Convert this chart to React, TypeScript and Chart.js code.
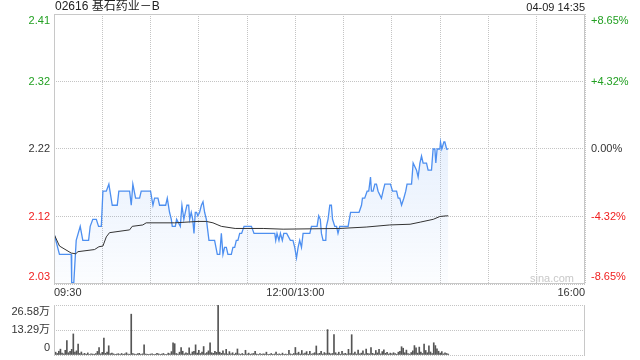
import React, { useEffect, useRef } from 'react';
import { Chart, registerables } from 'chart.js';

Chart.register(...registerables);

const FONT = '"Liberation Sans", Arial, "Noto Sans CJK SC", sans-serif';

const stockTitle = '02616 基石药业－B';
const timeStamp = '04-09 14:35';
const watermark = 'sina.com';

// price axis (prev close 2.22, ±8.65%)
const priceMin = 2.028;
const priceMax = 2.412;
const priceTicks = [2.028, 2.124, 2.22, 2.316, 2.412];
const priceTickLabels = ['2.03', '2.12', '2.22', '2.32', '2.41'];
const pctTickLabels = ['-8.65%', '-4.32%', '0.00%', '+4.32%', '+8.65%'];
const tickColors = ['#f02020', '#f02020', '#333333', '#22a022', '#22a022'];

// time axis in trading minutes from 09:30 (lunch break removed)
const xMax = 330;
const xGridMinutes = [0, 30, 60, 90, 120, 150, 180, 210, 240, 270, 300, 330];
const xLabelMinutes = [0, 150, 330];
const xLabelTexts = ['09:30', '12:00/13:00', '16:00'];

// price line vertices
const priceMinutes = [
  0, 3.4, 10.7, 11, 12.3, 13.8, 16.3, 17.9, 21.5, 22.5, 24.1, 26.3, 27.7, 29.4, 30.4, 32.5, 34.1, 36.2, 39.3, 40.3,
  47, 48, 49, 50.7, 53.2, 54.2, 60, 61.5, 62.5, 64.6, 65.6, 69.4, 70.4, 71.8, 72.9, 73.5, 75.4, 76.2, 78.5, 79.5,
  80.7, 81.6, 82.6, 83.7, 84.3, 85.3, 86.2, 87, 87.8, 88.6, 89.4, 90.5, 91.6, 92.6, 93.6, 94.7, 96.3, 99.8, 101.5, 103,
  104, 105, 106, 107.1, 108.1, 110.2, 111.2, 112.3, 113.3, 114.3, 115.4, 116.6, 118.1, 122.7, 124.3, 137.2, 137.8, 138.6, 139.8, 140.7,
  141.9, 142.8, 144.6, 146.9, 148.5, 149.6, 150.7, 151.7, 152.7, 153.8, 154.8, 159, 160, 163.5, 164.5, 165.5, 166.2, 167.2, 168.9, 169.3,
  170.3, 171.4, 172.4, 173.1, 174.5, 175.6, 176.5, 177.6, 182.8, 184.3, 189.6, 191.1, 191.7, 193.1, 194.6, 195.6, 196.7, 197.3, 198.3, 199.4,
  200.4, 201.4, 203.5, 204.5, 205.6, 209.1, 210.4, 212.9, 213.9, 214.9, 216, 217.4, 218.6, 219.4, 222.2, 223.2, 225.3, 226.3, 227.4, 228.4,
  229.4, 231.5, 232.5, 234.6, 235.6, 236.7, 237.3, 238.1, 239.8, 240.2, 241, 242.3, 242.9, 244, 245,
];
const priceValues = [
  2.10, 2.07, 2.07, 2.03, 2.03, 2.09, 2.11, 2.09, 2.09, 2.11, 2.12, 2.12, 2.11, 2.11, 2.16, 2.16, 2.17, 2.14, 2.14, 2.16,
  2.16, 2.14, 2.17, 2.15, 2.15, 2.16, 2.16, 2.14, 2.15, 2.15, 2.14, 2.14, 2.15, 2.13, 2.12, 2.11, 2.11, 2.12, 2.11, 2.14,
  2.12, 2.13, 2.14, 2.14, 2.12, 2.13, 2.12, 2.10, 2.13, 2.13, 2.125, 2.13, 2.14, 2.145, 2.13, 2.12, 2.09, 2.09, 2.07, 2.07,
  2.10, 2.07, 2.08, 2.08, 2.07, 2.07, 2.08, 2.08, 2.09, 2.09, 2.10, 2.10, 2.11, 2.11, 2.10, 2.10, 2.09, 2.10, 2.09, 2.10,
  2.09, 2.10, 2.10, 2.09, 2.09, 2.08, 2.065, 2.08, 2.09, 2.08, 2.10, 2.10, 2.11, 2.11, 2.125, 2.12, 2.10, 2.09, 2.09, 2.11,
  2.12, 2.14, 2.14, 2.12, 2.11, 2.11, 2.10, 2.11, 2.11, 2.13, 2.13, 2.14, 2.15, 2.15, 2.16, 2.16, 2.18, 2.16, 2.16, 2.17,
  2.17, 2.16, 2.15, 2.16, 2.17, 2.17, 2.16, 2.16, 2.15, 2.15, 2.14, 2.15, 2.16, 2.17, 2.17, 2.20, 2.19, 2.18, 2.20, 2.21,
  2.20, 2.20, 2.19, 2.19, 2.22, 2.22, 2.20, 2.22, 2.22, 2.23, 2.22, 2.23, 2.23, 2.22, 2.22,
];

// average price line vertices
const avgMinutes = [0, 3.4, 10.7, 13.5, 14.9, 25.2, 27.9, 30.4, 32.5, 34.5, 47, 48.6, 55.2, 57.3, 75, 89.5, 94.7, 98.8, 101.9, 104, 112.6, 130, 142.4, 177.6, 194, 208.7, 221.3, 227.6, 235.7, 239.8, 244, 245];
const avgValues = [2.099, 2.082, 2.072, 2.071, 2.074, 2.077, 2.081, 2.082, 2.095, 2.101, 2.105, 2.110, 2.112, 2.115, 2.115, 2.117, 2.117, 2.115, 2.112, 2.110, 2.107, 2.107, 2.106, 2.107, 2.109, 2.112, 2.113, 2.116, 2.120, 2.124, 2.125, 2.125];

// volume per minute, in 万
const volumeMax = 26.58;
const volumeTicks = [0, 13.29, 26.58];
const volumeTickLabels = ['0', '13.29万', '26.58万'];
const volumes = [
  1.2, 1.5, 0.8, 2.0, 3.1, 1.0, 0.6, 2.5, 7.6, 1.2,
  2.0, 3.0, 11.2, 1.5, 2.2, 5.8, 0.8, 1.6, 0.5, 0.9,
  0.4, 1.1, 0.3, 0.6, 0.5, 0.4, 0.8, 1.9, 4.0, 0.6,
  1.4, 9.0, 0.9, 1.5, 4.9, 0.7, 1.0, 0.6, 0.4, 0.5,
  0.7, 0.3, 0.8, 0.4, 0.6, 1.2, 0.5, 0.4, 21.7, 0.8,
  0.5, 0.3, 0.7, 0.9, 0.4, 0.6, 5.4, 0.5, 0.4, 0.3,
  0.5, 0.6, 0.3, 0.4, 0.9, 0.6, 0.3, 0.5, 0.8, 0.4,
  0.3, 1.0, 0.6, 1.8, 6.5, 6.0, 0.8, 0.5, 1.5, 4.0,
  2.0, 0.6, 1.2, 0.8, 3.8, 0.5, 1.6, 2.0, 5.4, 1.0,
  2.5, 0.8, 1.5, 4.5, 0.7, 1.3, 2.2, 6.5, 1.2, 0.9,
  2.0, 1.4, 26.58, 1.5, 0.9, 2.2, 0.7, 3.0, 0.5, 1.8,
  0.6, 1.2, 0.4, 1.0, 3.2, 0.6, 0.4, 0.8, 0.3, 2.5,
  0.5, 1.0, 0.4, 0.6, 0.8, 2.0, 0.5, 0.3, 0.7, 0.4,
  0.6, 0.5, 1.5, 0.3, 0.4, 0.8, 0.3, 0.5, 1.6, 0.4,
  0.6, 0.3, 1.0, 0.4, 0.5, 0.3, 2.5, 0.6, 0.4, 0.8,
  4.0, 0.7, 1.5, 0.5, 2.4, 0.6, 1.0, 1.8, 0.4, 2.0,
  0.5, 0.8, 1.2, 4.8, 0.6, 0.9, 2.0, 0.5, 1.3, 0.7,
  13.5, 1.0, 0.6, 0.8, 10.8, 1.2, 0.5, 1.5, 0.4, 2.0,
  0.6, 0.9, 0.5, 3.0, 0.8, 10.8, 0.7, 1.6, 0.5, 2.6,
  0.6, 1.0, 2.2, 0.5, 3.2, 0.8, 0.6, 4.0, 0.9, 0.5,
  2.4, 1.1, 3.0, 0.6, 1.8, 2.8, 0.9, 1.4, 0.5, 1.0,
  0.6, 1.2, 0.8, 0.4, 1.5, 2.0, 4.4, 3.6, 1.2, 2.6,
  0.7, 0.5, 1.3, 2.2, 5.0, 3.8, 1.0, 4.2, 1.5, 0.8,
  5.8, 2.4, 1.2, 4.9, 1.6, 0.8, 6.5, 5.0, 3.3, 2.0,
  1.0, 1.8, 0.6, 1.2, 0.8, 0.5,
];

const GRID_COLOR = '#c4c4c4';
const FRAME_COLOR = '#c8c8c8';
const GRID_DASH = [1, 1];

// first label pushed inside (down), last label pushed inside (up) — via an empty line
const innerLabel = (labels: string[], i: number) => {
  const s = labels[i];
  if (i === 0) return [s, ''];
  if (i === labels.length - 1) return ['', s];
  return s;
};

const noPad = (s: any) => {
  s.paddingTop = 0;
  s.paddingBottom = 0;
  s.paddingLeft = 0;
  s.paddingRight = 0;
};

const mainDecor = {
  id: 'mainDecor',
  afterDraw(chart: any) {
    const { ctx, chartArea: a } = chart;
    ctx.save();
    ctx.strokeStyle = FRAME_COLOR;
    ctx.lineWidth = 1;
    ctx.strokeRect(a.left + 0.5, a.top + 0.5, a.right - a.left - 1, a.bottom - a.top - 1);
    ctx.textBaseline = 'middle';
    ctx.fillStyle = '#222';
    ctx.font = `12px ${FONT}`;
    ctx.textAlign = 'left';
    ctx.fillText(stockTitle, a.left + 1, 7);
    ctx.font = `11px ${FONT}`;
    ctx.textAlign = 'right';
    ctx.fillText(timeStamp, a.right, 8);
    ctx.fillStyle = '#c8c8c8';
    ctx.textAlign = 'center';
    ctx.fillText(watermark, a.right - 33, a.bottom - 5);
    ctx.restore();
  },
};

const volDecor = {
  id: 'volDecor',
  afterDraw(chart: any) {
    const { ctx, chartArea: a } = chart;
    ctx.save();
    ctx.strokeStyle = FRAME_COLOR;
    ctx.lineWidth = 1;
    ctx.beginPath();
    ctx.moveTo(a.left + 0.5, a.top);
    ctx.lineTo(a.left + 0.5, a.bottom);
    ctx.moveTo(a.right - 0.5, a.top);
    ctx.lineTo(a.right - 0.5, a.bottom);
    ctx.stroke();
    ctx.restore();
  },
};

export default function App() {
  const mainRef = useRef<HTMLCanvasElement>(null);
  const volRef = useRef<HTMLCanvasElement>(null);

  useEffect(() => {
    Chart.defaults.font.family = FONT;
    Chart.defaults.font.size = 11;

    const priceData = priceMinutes.map((m, i) => ({ x: m, y: priceValues[i] }));
    const avgData = avgMinutes.map((m, i) => ({ x: m, y: avgValues[i] }));
    const volData = volumes.map((v, i) => ({ x: i, y: v }));

    const main = new Chart(mainRef.current!, {
      type: 'line',
      data: {
        datasets: [
          {
            data: priceData,
            borderColor: '#4d8ff0',
            borderWidth: 1.3,
            pointRadius: 0,
            tension: 0,
            fill: 'start',
            yAxisID: 'y',
            order: 2,
            backgroundColor: (c: any) => {
              const a = c.chart.chartArea;
              if (!a) return 'rgba(77,143,240,0.1)';
              const g = c.chart.ctx.createLinearGradient(0, a.top, 0, a.bottom);
              g.addColorStop(0, 'rgba(77,143,240,0.24)');
              g.addColorStop(1, 'rgba(77,143,240,0.02)');
              return g;
            },
          },
          {
            data: avgData,
            borderColor: '#333333',
            borderWidth: 1,
            pointRadius: 0,
            tension: 0,
            fill: false,
            yAxisID: 'y',
            order: 1,
          },
        ],
      },
      options: {
        responsive: false,
        animation: false,
        events: [],
        layout: { padding: { top: 14, left: 0, right: 0, bottom: 0 } },
        plugins: { legend: { display: false }, tooltip: { enabled: false } },
        scales: {
          x: {
            type: 'linear',
            min: 0,
            max: xMax,
            offset: false,
            afterBuildTicks: (s: any) => {
              s.ticks = xGridMinutes.map((v) => ({ value: v }));
            },
            afterFit: (s: any) => {
              s.height = 16;
              noPad(s);
            },
            ticks: {
              autoSkip: false,
              maxRotation: 0,
              align: 'inner',
              padding: 2,
              color: '#333',
              callback: (v: any) => {
                const k = xLabelMinutes.indexOf(Number(v));
                return k >= 0 ? xLabelTexts[k] : '';
              },
            },
            grid: { color: GRID_COLOR, drawTicks: false, lineWidth: 1 },
            border: { display: false, dash: GRID_DASH },
          },
          y: {
            type: 'linear',
            position: 'left',
            min: priceMin,
            max: priceMax,
            afterBuildTicks: (s: any) => {
              s.ticks = priceTicks.map((v) => ({ value: v }));
            },
            afterFit: (s: any) => {
              s.width = 54;
              noPad(s);
            },
            ticks: {
              autoSkip: false,
              padding: 4,
              color: (c: any) => tickColors[c.index],
              callback: (_v: any, i: number) => innerLabel(priceTickLabels, i),
            },
            grid: { color: GRID_COLOR, drawTicks: false },
            border: { display: false, dash: GRID_DASH },
          },
          yPct: {
            type: 'linear',
            position: 'right',
            min: priceMin,
            max: priceMax,
            afterBuildTicks: (s: any) => {
              s.ticks = priceTicks.map((v) => ({ value: v }));
            },
            afterFit: (s: any) => {
              s.width = 55;
              noPad(s);
            },
            ticks: {
              autoSkip: false,
              padding: 6,
              color: (c: any) => tickColors[c.index],
              callback: (_v: any, i: number) => innerLabel(pctTickLabels, i),
            },
            grid: { display: false, drawTicks: false },
            border: { display: false },
          },
        },
      },
      plugins: [mainDecor],
    } as any);

    const vol = new Chart(volRef.current!, {
      type: 'bar',
      data: {
        datasets: [
          {
            data: volData,
            backgroundColor: '#555555',
            barThickness: 1,
            borderWidth: 0,
          },
        ],
      },
      options: {
        responsive: false,
        animation: false,
        events: [],
        layout: { padding: { top: 5, left: 0, right: 55, bottom: 5 } },
        plugins: { legend: { display: false }, tooltip: { enabled: false } },
        scales: {
          x: {
            type: 'linear',
            min: 0,
            max: xMax,
            offset: false,
            display: false,
          },
          y: {
            type: 'linear',
            min: 0,
            max: volumeMax,
            afterBuildTicks: (s: any) => {
              s.ticks = volumeTicks.map((v) => ({ value: v }));
            },
            afterFit: (s: any) => {
              s.width = 54;
              noPad(s);
            },
            ticks: {
              autoSkip: false,
              padding: 4,
              color: '#333',
              callback: (_v: any, i: number) => innerLabel(volumeTickLabels, i),
            },
            grid: { color: GRID_COLOR, drawTicks: false },
            border: { display: false, dash: GRID_DASH },
          },
        },
      },
      plugins: [volDecor],
    } as any);

    return () => {
      main.destroy();
      vol.destroy();
    };
  }, []);

  return (
    <div style={{ position: 'fixed', left: 0, top: 0, width: 640, height: 360, background: '#fff' }}>
      <canvas
        ref={mainRef}
        width={640}
        height={300}
        style={{ position: 'absolute', left: 0, top: 0, width: 640, height: 300 }}
      />
      <canvas
        ref={volRef}
        width={640}
        height={60}
        style={{ position: 'absolute', left: 0, top: 300, width: 640, height: 60 }}
      />
    </div>
  );
}
